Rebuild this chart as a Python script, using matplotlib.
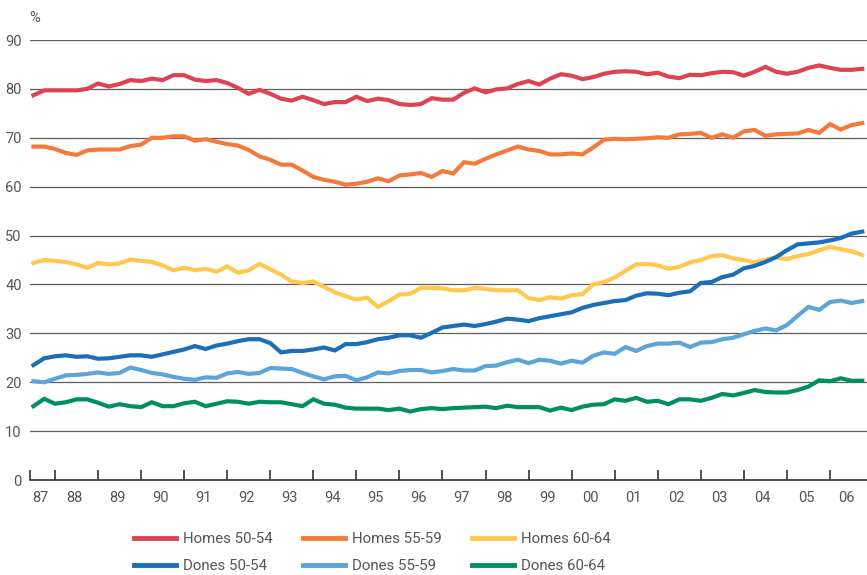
import numpy as np
import matplotlib
matplotlib.use("Agg")
import matplotlib.pyplot as plt

plt.rcParams['font.family'] = ['Liberation Sans Narrow', 'Roboto', 'DejaVu Sans']

# quarterly series, starting 1987 Q3
start_year = 1987.5
homes_50_54 = [78.7, 79.7, 79.7, 79.7, 79.7, 80.0, 81.1, 80.5, 81.0, 81.8,
               81.6, 82.1, 81.8, 82.8, 82.8, 81.9, 81.6, 81.8, 81.2, 80.2,
               79.0, 79.8, 79.0, 78.0, 77.6, 78.4, 77.7, 76.9, 77.3, 77.3,
               78.4, 77.5, 78.0, 77.7, 76.9, 76.7, 76.9, 78.1, 77.8, 77.8,
               79.2, 80.1, 79.3, 79.9, 80.1, 81.0, 81.6, 80.9, 82.1, 83.0,
               82.7, 82.0, 82.4, 83.1, 83.5, 83.6, 83.5, 83.0, 83.3, 82.5,
               82.2, 82.9, 82.8, 83.2, 83.5, 83.4, 82.7, 83.5, 84.5, 83.5,
               83.1, 83.5, 84.3, 84.8, 84.3, 83.9, 83.9, 84.1]
homes_55_59 = [68.2, 68.2, 67.7, 66.9, 66.5, 67.4, 67.6, 67.6, 67.6, 68.3,
               68.6, 70.0, 70.0, 70.3, 70.3, 69.4, 69.7, 69.2, 68.7, 68.4,
               67.5, 66.2, 65.5, 64.5, 64.5, 63.3, 62.0, 61.4, 61.0, 60.4,
               60.6, 61.0, 61.7, 61.1, 62.3, 62.5, 62.8, 62.0, 63.2, 62.7,
               65.0, 64.7, 65.7, 66.6, 67.4, 68.2, 67.6, 67.3, 66.6, 66.6,
               66.8, 66.6, 68.0, 69.6, 69.8, 69.7, 69.8, 69.9, 70.1, 70.0,
               70.7, 70.8, 71.0, 70.0, 70.7, 70.0, 71.3, 71.6, 70.4, 70.7,
               70.8, 70.9, 71.6, 71.0, 72.8, 71.7, 72.6, 73.0]
homes_60_64 = [44.4, 45.0, 44.8, 44.6, 44.1, 43.4, 44.4, 44.1, 44.3, 45.1,
               44.8, 44.6, 43.9, 42.9, 43.4, 42.9, 43.2, 42.6, 43.7, 42.4,
               42.9, 44.2, 43.1, 42.0, 40.6, 40.3, 40.6, 39.5, 38.4, 37.6,
               36.9, 37.3, 35.4, 36.6, 37.9, 38.1, 39.3, 39.3, 39.2, 38.8,
               38.8, 39.3, 39.1, 38.8, 38.8, 38.8, 37.2, 36.8, 37.4, 37.1,
               37.8, 38.0, 40.0, 40.5, 41.4, 42.8, 44.1, 44.2, 43.9, 43.2,
               43.6, 44.5, 45.0, 45.8, 46.0, 45.3, 45.0, 44.5, 45.1, 45.5,
               45.2, 45.8, 46.2, 47.0, 47.7, 47.2, 46.8, 46.0]
dones_50_54 = [23.5, 24.9, 25.3, 25.5, 25.2, 25.3, 24.8, 24.9, 25.2, 25.5,
               25.5, 25.2, 25.7, 26.2, 26.7, 27.4, 26.8, 27.5, 27.9, 28.4,
               28.8, 28.8, 28.0, 26.1, 26.4, 26.4, 26.7, 27.1, 26.5, 27.8,
               27.8, 28.2, 28.8, 29.1, 29.6, 29.6, 29.1, 30.1, 31.2, 31.5,
               31.8, 31.5, 31.9, 32.4, 33.0, 32.8, 32.5, 33.1, 33.5, 33.9,
               34.3, 35.2, 35.8, 36.2, 36.6, 36.8, 37.7, 38.2, 38.1, 37.8,
               38.3, 38.6, 40.3, 40.5, 41.5, 42.0, 43.3, 43.8, 44.6, 45.6,
               47.0, 48.2, 48.4, 48.6, 49.0, 49.5, 50.4, 50.8]
dones_55_59 = [20.2, 20.0, 20.7, 21.4, 21.5, 21.7, 22.0, 21.7, 21.9, 23.0,
               22.5, 21.9, 21.6, 21.1, 20.7, 20.5, 21.0, 20.9, 21.8, 22.1,
               21.7, 21.9, 22.9, 22.8, 22.7, 21.9, 21.2, 20.6, 21.2, 21.3,
               20.4, 21.0, 22.0, 21.8, 22.3, 22.5, 22.5, 22.0, 22.3, 22.7,
               22.4, 22.4, 23.3, 23.4, 24.1, 24.6, 23.9, 24.6, 24.4, 23.8,
               24.4, 24.0, 25.4, 26.1, 25.8, 27.2, 26.4, 27.4, 27.9, 27.9,
               28.1, 27.2, 28.1, 28.2, 28.8, 29.1, 29.8, 30.5, 31.0, 30.6,
               31.7, 33.6, 35.4, 34.8, 36.4, 36.7, 36.2, 36.6]
dones_60_64 = [15.1, 16.6, 15.6, 15.9, 16.5, 16.5, 15.8, 15.0, 15.5, 15.1,
               14.9, 15.9, 15.1, 15.1, 15.7, 16.0, 15.1, 15.6, 16.1, 16.0,
               15.6, 16.0, 15.9, 15.9, 15.5, 15.1, 16.5, 15.6, 15.4, 14.8,
               14.6, 14.6, 14.6, 14.3, 14.6, 14.0, 14.5, 14.7, 14.5, 14.7,
               14.8, 14.9, 15.0, 14.7, 15.2, 14.9, 14.9, 14.9, 14.2, 14.8,
               14.3, 15.0, 15.4, 15.5, 16.5, 16.2, 16.8, 16.0, 16.2, 15.5,
               16.5, 16.5, 16.2, 16.8, 17.6, 17.3, 17.8, 18.4, 18.0, 17.9,
               17.9, 18.4, 19.1, 20.4, 20.2, 20.8, 20.3, 20.3]

series_labels = ["Homes 50-54", "Homes 55-59", "Homes 60-64",
                 "Dones 50-54", "Dones 55-59", "Dones 60-64"]
years = list(range(1987, 2007))
year_labels = [f"{y % 100:02d}" for y in years]
y_ticks = [0, 10, 20, 30, 40, 50, 60, 70, 80, 90]

colors = ["#DD4352", "#F47A3B", "#FFC84F", "#1B6EB8", "#5BA5DA", "#00905F"]
series = [homes_50_54, homes_55_59, homes_60_64, dones_50_54, dones_55_59, dones_60_64]

W, H = 867, 575
fig = plt.figure(figsize=(W / 100, H / 100), dpi=100)
ax = fig.add_axes([30 / W, (H - 480) / H, (W - 30) / W, 440 / H])

x0, x1 = 1987.42, 2006.86
handles = []
for vals, c, lab in zip(series, colors, series_labels):
    x = start_year + 0.25 * np.arange(len(vals))
    ln, = ax.plot(x, vals, color=c, lw=3.0, solid_joinstyle='miter', label=lab, zorder=3)
    handles.append(ln)

ax.set_xlim(x0, x1)
ax.set_ylim(0, 90)

for s in ['left', 'right', 'top']:
    ax.spines[s].set_visible(False)
ax.spines['bottom'].set_color('#333333')
ax.spines['bottom'].set_linewidth(1.2)

ax.set_yticks(y_ticks)
ax.set_yticklabels([str(v) for v in y_ticks])
ax.tick_params(axis='y', length=0, pad=6, labelsize=10.5, labelcolor='#555555')
for v in y_ticks[1:]:
    ax.axhline(v, color='#5e5e5e', lw=0.9, zorder=1)

ax.set_xticks([x0] + [float(y) for y in years[1:]])
ax.set_xticklabels([])
ax.tick_params(axis='x', which='major', direction='in', length=7, width=1.2, color='#333333')
centers = [(max(y, x0) + min(y + 1, x1)) / 2 - 0.06 for y in years]
ax.set_xticks(centers, minor=True)
ax.set_xticklabels(year_labels, minor=True)
ax.tick_params(axis='x', which='minor', length=0, pad=8, labelsize=10.5, labelcolor='#555555')

fig.text(29 / W, 1 - 18 / H, "%", ha='left', va='center', fontsize=10.5, color='#555555')

col_x = [134, 303, 472]
for k in range(3):
    hs = [handles[k], handles[k + 3]]
    leg = fig.legend(handles=hs, labels=[h.get_label() for h in hs],
                     loc='upper left', bbox_to_anchor=(col_x[k] / W, 1 - 532 / H),
                     frameon=False, fontsize=10.8, handlelength=2.8, handletextpad=0.45,
                     labelspacing=0.9, borderpad=0, borderaxespad=0, labelcolor='#555555')
    for t in leg.get_lines():
        t.set_linewidth(3.5)

fig.savefig("out.png", dpi=100)
